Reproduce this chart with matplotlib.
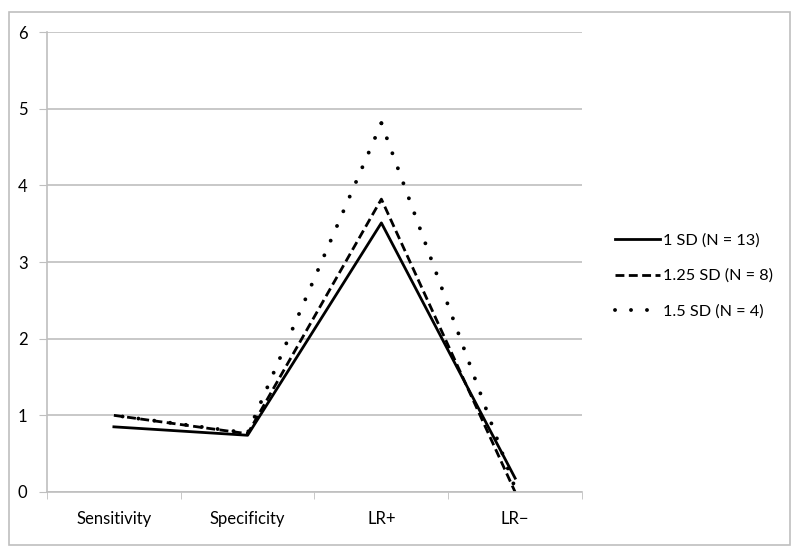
import matplotlib
matplotlib.use("Agg")
import matplotlib.pyplot as plt
from matplotlib.patches import Rectangle

categories = ["Sensitivity", "Specificity", "LR+", "LR\u2212"]
sd_1 = [0.85, 0.74, 3.51, 0.18]
sd_125 = [1.0, 0.76, 3.82, 0.0]
sd_15 = [1.0, 0.77, 4.81, 0.05]
labels = ["1 SD (N = 13)", "1.25 SD (N = 8)", "1.5 SD (N = 4)"]
yticks = [0, 1, 2, 3, 4, 5, 6]

plt.rcParams['font.family'] = ['Lato', 'DejaVu Sans']

fig = plt.figure(figsize=(8, 5.56), dpi=100)
fig.patches.append(Rectangle((9/800, 1 - 545/556), 781/800, 533/556,
                             transform=fig.transFigure, fill=False,
                             edgecolor="#BFBFBF", linewidth=1.2))
ax = fig.add_axes([47/800, 1 - 492/556, 535/800, 460/556])

x = list(range(len(categories)))
ax.plot(x, sd_1, color="black", linewidth=2.0, linestyle="-", label=labels[0])
ax.plot(x, sd_125, color="black", linewidth=2.0, linestyle=(0, (3.2, 1.6)), label=labels[1])
# dotted series drawn outward from its peak so a dot sits on the peak
dot_style = dict(color="black", linewidth=2.8, linestyle=(0, (0.01, 4.1)),
                 dash_capstyle="round")
pk = sd_15.index(max(sd_15))
ax.plot(x[pk::-1], sd_15[pk::-1], label=labels[2], **dot_style)
ax.plot(x[pk:], sd_15[pk:], **dot_style)

ax.set_xlim(-0.5, len(categories) - 0.5)
ax.set_ylim(0, 6)
ax.set_yticks(yticks)
ax.set_xticks(x)
ax.set_xticklabels(categories, fontsize=12)
ax.set_xticks([i - 0.5 for i in range(len(categories) + 1)], minor=True)
ax.tick_params(axis="x", which="major", length=0, pad=14)
ax.tick_params(axis="x", which="minor", length=5, color="#BFBFBF", direction="out")
ax.tick_params(axis="y", length=6, color="#BFBFBF", labelsize=12, pad=8)
ax.yaxis.grid(True, color="#BFBFBF", linewidth=1.2)
ax.set_axisbelow(True)
for s in ["top", "right"]:
    ax.spines[s].set_visible(False)
for s in ["left", "bottom"]:
    ax.spines[s].set_color("#BFBFBF")
    ax.spines[s].set_linewidth(1.2)

leg = fig.legend(loc="center left", bbox_to_anchor=(600/800, 1 - 276/556),
                 frameon=False, fontsize=11.7, handlelength=2.8, handletextpad=0.2,
                 labelspacing=1.3)

fig.savefig("out.png", dpi=100)
